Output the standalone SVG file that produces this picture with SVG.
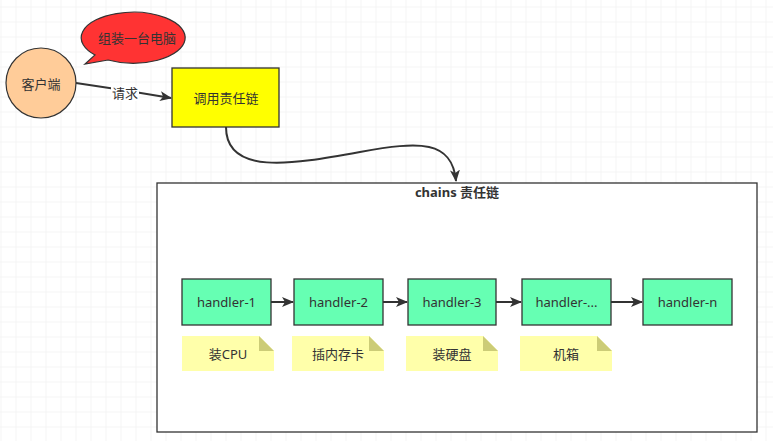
<svg xmlns="http://www.w3.org/2000/svg" width="773" height="441" viewBox="0 0 773 441">
<defs>
<pattern id="grid" width="15" height="15" patternUnits="userSpaceOnUse" x="0.5" y="6.5">
<path d="M0 0H15M0 0V15" fill="none" stroke="#ebebeb" stroke-width="1"/>
</pattern>
<marker id="arr" markerWidth="12" markerHeight="10" refX="11" refY="5" orient="auto" markerUnits="userSpaceOnUse">
<path d="M0 0L12 5L0 10L3 5Z" fill="#333"/>
</marker>
</defs>
<style>
text{font-family:"Noto Sans","Noto Sans CJK SC",sans-serif;font-size:13px;fill:#333;text-anchor:middle;dominant-baseline:central}
.handler rect{fill:#66ffb3;stroke:#333;stroke-width:1.3}
.note .body{fill:#ffffaa}
.note .fold{fill:#cccc77}
.conn{fill:none;stroke:#333;stroke-width:2}
</style>
<rect width="773" height="441" fill="#fff"/>
<rect width="773" height="441" fill="url(#grid)"/>

<g id="container">
<rect x="157" y="183" width="600" height="249" fill="#fff" stroke="#333" stroke-width="1.3"/>
<text x="457" y="192" style="font-weight:bold">chains 责任链</text>
</g>

<g id="client">
<circle cx="41" cy="83" r="35" fill="#ffcc99" stroke="#333" stroke-width="1.2"/>
<text x="41" y="84">客户端</text>
</g>

<g id="callout">
<path d="M95 55 A52 25.5 0 1 1 108 60 L85 64 Z" fill="#ff3333" stroke="#333" stroke-width="1.2"/>
<text x="137" y="38">组装一台电脑</text>
</g>

<g id="invoke">
<rect x="172" y="68" width="107" height="59" fill="#ffff00" stroke="#333" stroke-width="1.3"/>
<text x="226" y="98">调用责任链</text>
</g>

<g id="h1" class="handler"><rect x="182" y="279" width="89" height="46"/><text x="226.5" y="302">handler-1</text></g>
<g id="h2" class="handler"><rect x="294" y="279" width="89" height="46"/><text x="338.5" y="302">handler-2</text></g>
<g id="h3" class="handler"><rect x="408" y="279" width="88" height="46"/><text x="452" y="302">handler-3</text></g>
<g id="h4" class="handler"><rect x="522" y="279" width="89" height="46"/><text x="566.5" y="302">handler-...</text></g>
<g id="hn" class="handler"><rect x="643" y="279" width="89" height="46"/><text x="687.5" y="302">handler-n</text></g>

<g id="n1" class="note"><path class="body" d="M182 336H259L274 351V371H182Z"/><path class="fold" d="M259 336V351H274Z"/><text x="228" y="354">装CPU</text></g>
<g id="n2" class="note"><path class="body" d="M292 336H369L384 351V371H292Z"/><path class="fold" d="M369 336V351H384Z"/><text x="338" y="354">插内存卡</text></g>
<g id="n3" class="note"><path class="body" d="M406 336H483L498 351V371H406Z"/><path class="fold" d="M483 336V351H498Z"/><text x="452" y="354">装硬盘</text></g>
<g id="n4" class="note"><path class="body" d="M520 336H597L612 351V371H520Z"/><path class="fold" d="M597 336V351H612Z"/><text x="566" y="354">机箱</text></g>

<g id="connectors">
<path class="conn" d="M76 83 Q125 90 171 98" marker-end="url(#arr)"/>
<rect x="111" y="86" width="28" height="15" fill="#fff"/>
<text x="125" y="93">请求</text>
<path class="conn" d="M226 127 C226 175 290 165 360 152 C420 141 452 140 456 181" marker-end="url(#arr)"/>
<path class="conn" d="M271 302H293" marker-end="url(#arr)"/>
<path class="conn" d="M383 302H407" marker-end="url(#arr)"/>
<path class="conn" d="M496 302H521" marker-end="url(#arr)"/>
<path class="conn" d="M611 302H642" marker-end="url(#arr)"/>
</g>
</svg>
